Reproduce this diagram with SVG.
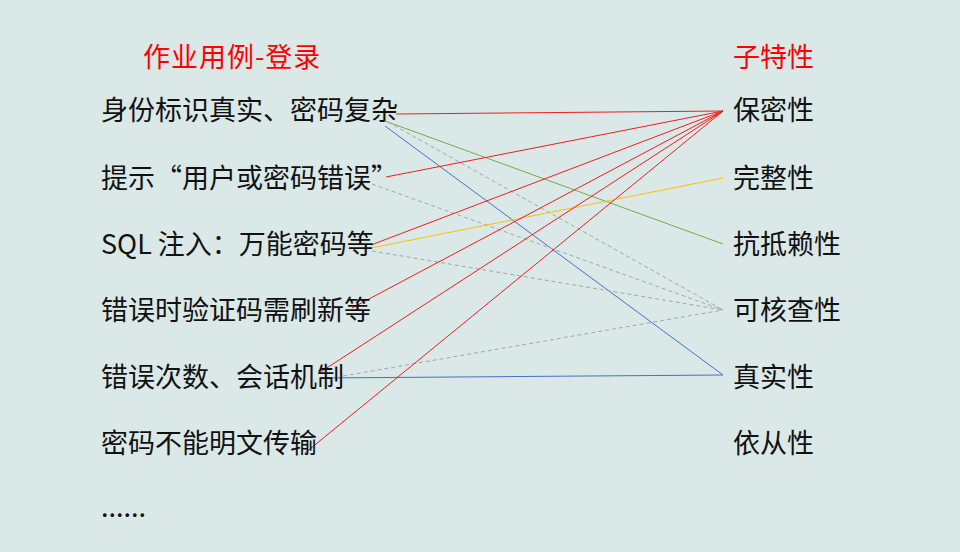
<svg xmlns="http://www.w3.org/2000/svg" width="960" height="552" viewBox="0 0 960 552">
<style>
text{font-family:"Noto Sans CJK SC","Noto Sans",sans-serif;font-size:27px;fill:#111}
.hd{fill:#FF0000}
#title-left text{letter-spacing:1px}
line{stroke-width:1;fill:none}
.r{stroke:#F01E1E}
.g{stroke:#70AD47}
.y{stroke:#FFC000}
.b{stroke:#4472C4}
.d{stroke:#A6A6A6;stroke-dasharray:4 3}
</style>
<rect width="960" height="552" fill="#DAE8E8"/>
<g id="connectors">
<line class="r" x1="396" y1="114" x2="723" y2="111"/>
<line class="g" x1="385" y1="121" x2="723" y2="244"/>
<line class="d" x1="388" y1="122" x2="723" y2="310"/>
<line class="b" x1="385" y1="126" x2="723" y2="375"/>
<line class="r" x1="386" y1="177" x2="723" y2="111"/>
<line class="d" x1="372" y1="184" x2="723" y2="310"/>
<line class="r" x1="371" y1="245" x2="723" y2="111"/>
<line class="y" x1="371" y1="248" x2="723" y2="178"/>
<line class="d" x1="372" y1="251" x2="723" y2="310"/>
<line class="r" x1="352" y1="308" x2="723" y2="111"/>
<line class="r" x1="319" y1="373" x2="723" y2="111"/>
<line class="d" x1="343" y1="376" x2="723" y2="310"/>
<line class="b" x1="320" y1="378" x2="723" y2="375"/>
<line class="r" x1="305" y1="453" x2="723" y2="111"/>
</g>
<g id="title-left"><text class="hd" x="143" y="67">作业用例-登录</text></g>
<g id="title-right"><text class="hd" x="733" y="67">子特性</text></g>
<g id="l1"><text x="101" y="120">身份标识真实、密码复杂</text></g>
<g id="l2"><text x="101" y="188">提示“用户或密码错误”</text></g>
<g id="l3"><text x="101" y="254">SQL 注入：万能密码等</text></g>
<g id="l4"><text x="101" y="320">错误时验证码需刷新等</text></g>
<g id="l5"><text x="101" y="387">错误次数、会话机制</text></g>
<g id="l6"><text x="101" y="453">密码不能明文传输</text></g>
<g id="l7"><text x="101" y="517">......</text></g>
<g id="r1"><text x="733" y="120">保密性</text></g>
<g id="r2"><text x="733" y="188">完整性</text></g>
<g id="r3"><text x="733" y="254">抗抵赖性</text></g>
<g id="r4"><text x="733" y="320">可核查性</text></g>
<g id="r5"><text x="733" y="387">真实性</text></g>
<g id="r6"><text x="733" y="453">依从性</text></g>
</svg>
